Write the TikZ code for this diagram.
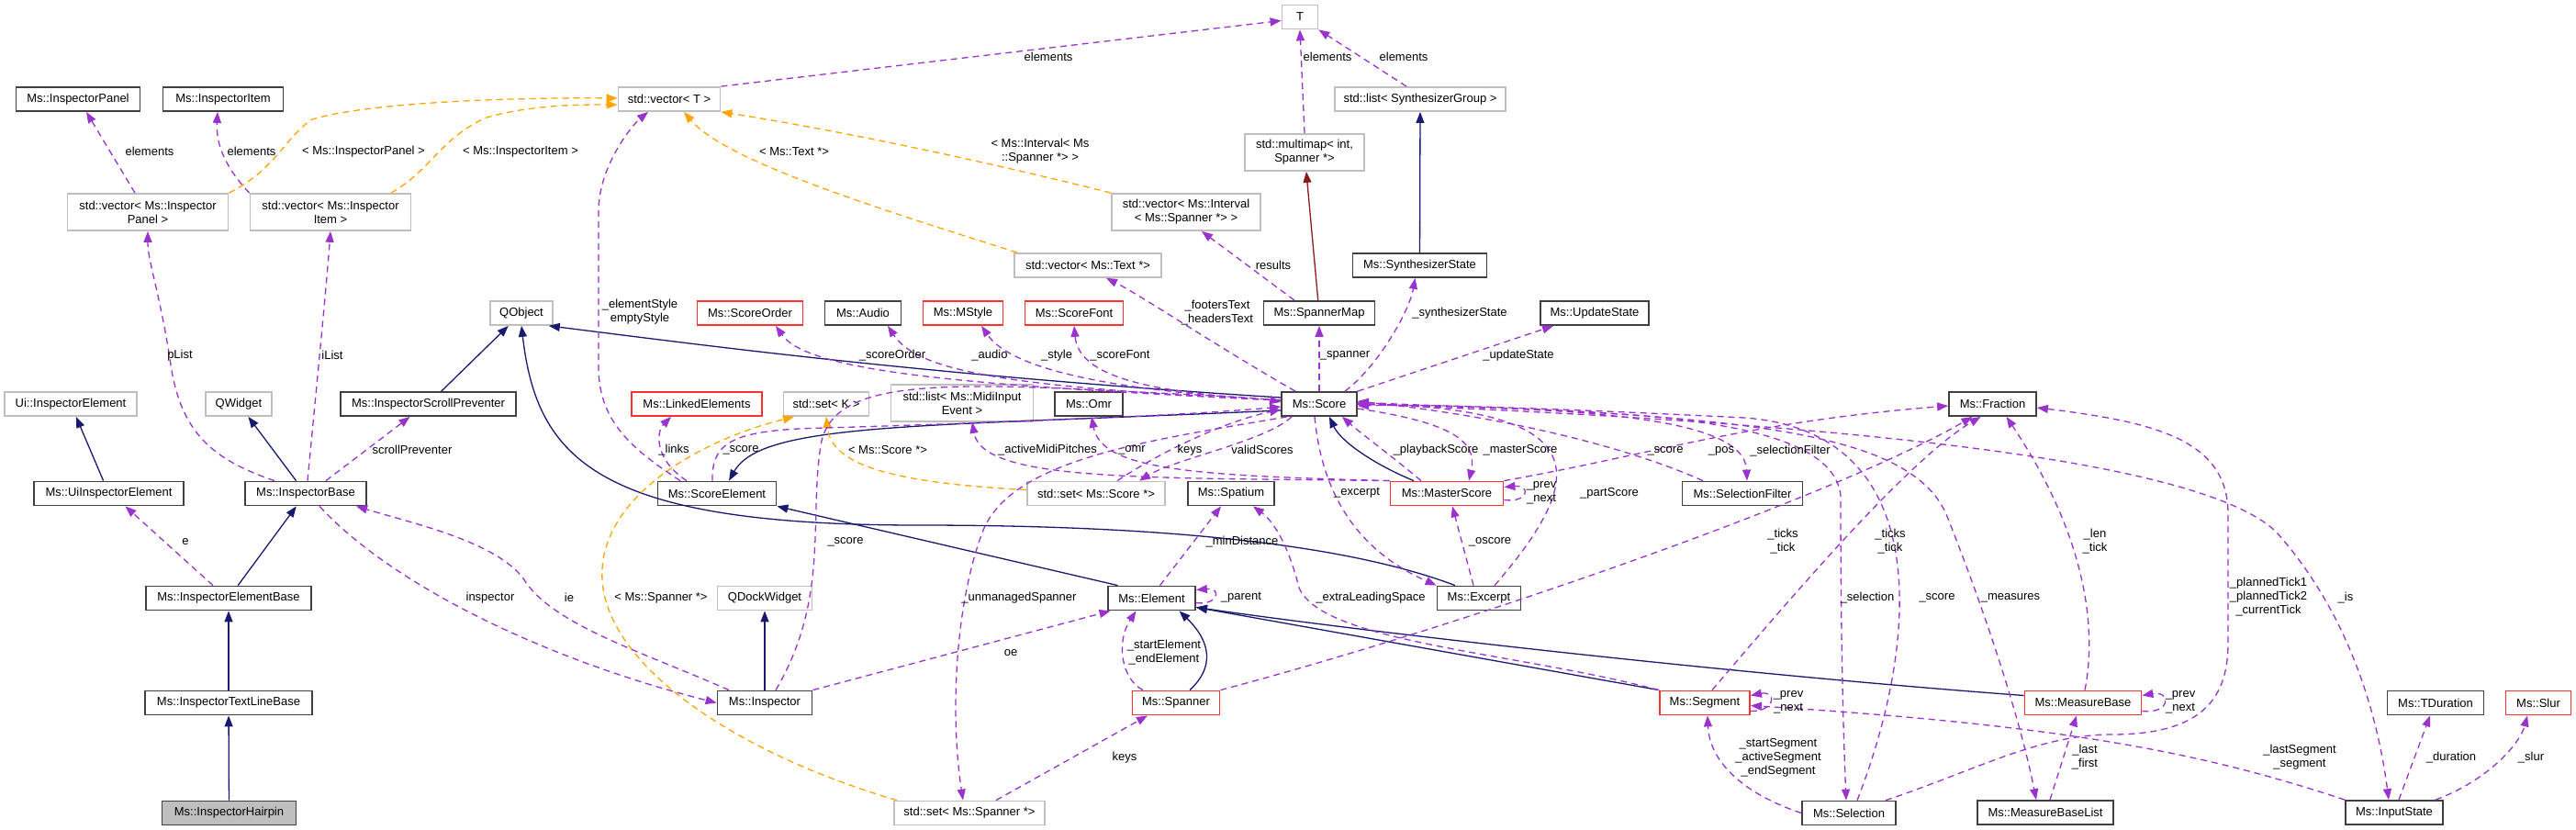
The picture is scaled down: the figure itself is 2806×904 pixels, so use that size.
\documentclass[tikz,border=0pt]{standalone}
\usepackage{fontspec}
\setmainfont{Liberation Sans}
\usetikzlibrary{arrows.meta}

\definecolor{usecol}{HTML}{9A32CD}
\definecolor{inhcol}{HTML}{191970}
\definecolor{tplcol}{HTML}{FFA500}
\definecolor{privcol}{HTML}{8B1A1A}
\definecolor{extcol}{HTML}{BFBFBF}
\definecolor{boxcol}{HTML}{404040}
\definecolor{trunccol}{HTML}{FF3030}

\tikzset{
  cls/.style={draw=boxcol, line width=1.8pt, rectangle, fill=white, minimum height=26pt, inner xsep=1pt, inner ysep=0pt, align=center},
  extcls/.style={cls, draw=extcol},
  trunccls/.style={cls, draw=trunccol},
  tall/.style={minimum height=40pt},
  inherit/.style={->, draw=inhcol, line width=1.3pt},
  privinh/.style={->, draw=privcol, line width=1.3pt},
  uses/.style={->, draw=usecol, line width=1.3pt, dash pattern=on 7pt off 5pt},
  templ/.style={->, draw=tplcol, line width=1.3pt, dash pattern=on 7pt off 5pt},
  lbl/.style={align=center, inner sep=0pt}
}

\begin{document}
\begin{tikzpicture}[x=1pt, y=-1pt, >={Triangle[length=12pt,width=9pt]}, font=\fontsize{13}{15}\selectfont]
\useasboundingbox (0,0) rectangle (2806,904);

% Define boxes
\node[cls, minimum width=135pt] (panel) at (85,108) {Ms::InspectorPanel};
\node[cls, minimum width=131pt] (item) at (243,108) {Ms::InspectorItem};
\node[extcls, minimum width=111pt] (vect) at (729,108) {std::vector< T >};
\node[extcls, minimum width=39pt] (tt) at (1416,18.5) {T};
\node[extcls, minimum width=186pt] (synthgroup) at (1547,108) {std::list< SynthesizerGroup >};
\node[extcls, tall, minimum width=130pt] (multimap) at (1421,166) {std::multimap< int,\\Spanner *>};
\node[extcls, tall, minimum width=175pt] (vecpanel) at (161,231) {std::vector< Ms::Inspector\\Panel >};
\node[extcls, tall, minimum width=175pt] (vecitem) at (360,231) {std::vector< Ms::Inspector\\Item >};
\node[extcls, tall, minimum width=162pt] (vecinterval) at (1292,231) {std::vector< Ms::Interval\\< Ms::Spanner *> >};
\node[extcls, minimum width=160pt] (vectext) at (1185,289) {std::vector< Ms::Text *>};
\node[cls, minimum width=146pt] (synthstate) at (1546.5,289) {Ms::SynthesizerState};
\node[extcls, minimum width=68pt] (qobject) at (568,341) {QObject};
\node[trunccls, minimum width=115pt] (scoreorder) at (817,341) {Ms::ScoreOrder};
\node[cls, minimum width=83pt] (audio) at (940,341) {Ms::Audio};
\node[trunccls, minimum width=87pt] (mstyle) at (1049,341) {Ms::MStyle};
\node[trunccls, minimum width=107pt] (scorefont) at (1170,341) {Ms::ScoreFont};
\node[cls, minimum width=121pt] (spannermap) at (1437,341) {Ms::SpannerMap};
\node[cls, minimum width=118pt] (updatestate) at (1737,341) {Ms::UpdateState};
\node[extcls, minimum width=144pt] (uielem) at (77,440) {Ui::InspectorElement};
\node[extcls, minimum width=72pt] (qwidget) at (260,440) {QWidget};
\node[cls, minimum width=191pt] (scrollprev) at (466.5,440) {Ms::InspectorScrollPreventer};
\node[trunccls, minimum width=142pt] (linked) at (759,440) {Ms::LinkedElements};
\node[extcls, minimum width=93pt] (setk) at (900,440) {std::set< K >};
\node[extcls, tall, minimum width=155pt] (midilist) at (1048,439) {std::list< Ms::MidiInput\\Event >};
\node[cls, minimum width=74pt] (omr) at (1186,440) {Ms::Omr};
\node[cls, minimum width=82pt] (score) at (1437,440) {Ms::Score};
\node[cls, minimum width=95pt] (fraction) at (2170.5,440) {Ms::Fraction};
\node[cls, minimum width=163pt] (uiinsp) at (118.5,537.5) {Ms::UiInspectorElement};
\node[cls, minimum width=132pt] (inspbase) at (333,537.5) {Ms::InspectorBase};
\node[cls, minimum width=129pt] (scoreelem) at (781,537.5) {Ms::ScoreElement};
\node[extcls, minimum width=150pt] (setscore) at (1194,537.5) {std::set< Ms::Score *>};
\node[cls, minimum width=94pt] (spatium) at (1341,537.5) {Ms::Spatium};
\node[trunccls, minimum width=123pt] (masterscore) at (1576,537.5) {Ms::MasterScore};
\node[cls, minimum width=131pt] (selfilter) at (1898,537.5) {Ms::SelectionFilter};
\node[cls, minimum width=180pt] (elembase) at (249,651.5) {Ms::InspectorElementBase};
\node[extcls, minimum width=103pt] (qdock) at (833,651.5) {QDockWidget};
\node[cls, minimum width=95pt] (element) at (1254.5,651.5) {Ms::Element};
\node[cls, minimum width=91pt] (excerpt) at (1611,651.5) {Ms::Excerpt};
\node[cls, minimum width=182pt] (textline) at (249,765.5) {Ms::InspectorTextLineBase};
\node[cls, minimum width=103pt] (inspector) at (833,765.5) {Ms::Inspector};
\node[trunccls, minimum width=95pt] (spanner) at (1281,765.5) {Ms::Spanner};
\node[trunccls, minimum width=98pt] (segment) at (1857,765.5) {Ms::Segment};
\node[trunccls, minimum width=127pt] (measurebase) at (2269,765.5) {Ms::MeasureBase};
\node[cls, minimum width=105pt] (tduration) at (2653,765.5) {Ms::TDuration};
\node[trunccls, minimum width=71pt] (slur) at (2765,765.5) {Ms::Slur};
\node[cls, fill=extcol, minimum width=146pt] (hairpin) at (249.5,885.5) {Ms::InspectorHairpin};
\node[extcls, minimum width=164pt] (setspanner) at (1056,885.5) {std::set< Ms::Spanner *>};
\node[cls, minimum width=102pt] (selection) at (2014,885.5) {Ms::Selection};
\node[cls, minimum width=148pt] (mblist) at (2228,885) {Ms::MeasureBaseList};
\node[cls, minimum width=106pt] (inputstate) at (2608,885) {Ms::InputState};

% Draw arrows (base classes)
\draw[inherit] (hairpin) -- (textline);
\draw[inherit] (textline) -- (elembase);
\draw[inherit] (elembase) -- (inspbase);
\draw[inherit] (uiinsp) -- (uielem);
\draw[inherit] (inspbase) -- (qwidget);
\draw[inherit] (scrollprev) -- (qobject);
\draw[inherit] (inspector) -- (qdock);
\draw[inherit] (synthstate) -- (synthgroup);
\draw[privinh] (spannermap) -- (multimap);
\draw[inherit] ([yshift=7pt]score.west) .. controls (1000,408) and (760,375) .. (qobject.-25);
\draw[inherit] ([yshift=-7pt]score.west) .. controls (1000,465) and (830,460) .. ([xshift=13pt]scoreelem.north);
\draw[inherit] ([xshift=-26pt]excerpt.north) .. controls (1480,598) and (1300,572) .. (1000,572) .. controls (650,572) and (585,500) .. (qobject.south);
\draw[inherit] ([xshift=-37pt]element.north) -- (scoreelem.south east);
\draw[inherit] ([xshift=15pt]spanner.north) .. controls (1330,720) and (1310,690) .. ([xshift=30pt]element.south);
\draw[inherit] (segment.north west) -- ([yshift=-10pt]element.east);
\draw[inherit] ([yshift=8pt]measurebase.west) .. controls (1900,735) and (1500,690) .. ([yshift=-10pt]element.east);
\draw[inherit] ([xshift=-36pt]masterscore.north) .. controls (1495,505) and (1460,480) .. ([xshift=11pt]score.south);

% Draw arrows (template instances)
\draw[templ] (vecpanel.north east) .. controls (300,185) and (310,150) .. (340,130) .. controls (400,112) and (550,106) .. ([yshift=1pt]vect.west);
\draw[templ] ([xshift=66pt]vecitem.north) .. controls (470,185) and (480,150) .. (530,128) .. controls (580,114) and (630,114) .. ([yshift=-6pt]vect.west);
\draw[templ] ([xshift=-77pt]vectext.north) .. controls (950,225) and (790,175) .. ([xshift=16pt]vect.south);
\draw[templ] (vecinterval.north west) .. controls (1050,170) and (900,140) .. (vect.south east);
\draw[templ] ([yshift=4pt]setscore.west) .. controls (950,525) and (905,500) .. (setk.south);
\draw[templ] ([xshift=-79pt]setspanner.north) .. controls (800,820) and (650,720) .. (656,620) .. controls (660,540) and (760,480) .. ([xshift=-35pt]setk.south);

% Draw arrows (members)
\draw[uses] ([xshift=-14pt]vecpanel.north) -- ([xshift=9pt]panel.south);
\draw[uses] (vecitem.north west) .. controls (248,185) and (235,160) .. ([xshift=-6pt]item.south);
\draw[uses] (vect.north east) -- ([yshift=-4pt]tt.west);
\draw[uses] (multimap.north) -- (tt.south);
\draw[uses] ([xshift=-15pt]synthgroup.north) -- (tt.south east);
\draw[uses] ([xshift=-27pt]spannermap.north) -- ([xshift=17pt]vecinterval.south);
\draw[uses] ([xshift=-26pt]score.north) .. controls (1330,380) and (1240,320) .. ([xshift=20pt]vectext.south);
\draw[uses] ([yshift=4pt]score.west) .. controls (1050,420) and (880,405) .. ([xshift=28pt]scoreorder.south);
\draw[uses] ([yshift=4pt]score.west) .. controls (1100,422) and (1000,405) .. ([xshift=27pt]audio.south);
\draw[uses] ([yshift=4pt]score.west) .. controls (1200,425) and (1100,400) .. ([xshift=20pt]mstyle.south);
\draw[uses] ([yshift=4pt]score.west) .. controls (1250,428) and (1175,410) .. (scorefont.south);
\draw[uses] (score.north) -- (spannermap.south);
\draw[uses] ([xshift=28pt]score.north) .. controls (1500,400) and (1535,340) .. ([xshift=-5pt]synthstate.south);
\draw[uses] (score.north east) -- ([xshift=-45pt]updatestate.south);
\draw[uses] ([xshift=-33pt]scoreelem.north) .. controls (712,500) and (715,470) .. ([xshift=-28pt]linked.south);
\draw[uses] ([xshift=-40pt]scoreelem.north) .. controls (690,490) and (652,460) .. (652,400) -- (652,230) .. controls (652,180) and (690,135) .. ([xshift=-23pt]vect.south);
\draw[uses] ([xshift=-5pt]scoreelem.north) .. controls (775,480) and (800,468) .. (900,466) .. controls (1100,460) and (1300,452) .. ([yshift=-3pt]score.west);
\draw[uses] ([xshift=12pt]inspector.north) .. controls (905,650) and (880,560) .. (895,480) .. controls (910,420) and (1000,415) .. (1200,425) .. controls (1300,430) and (1370,433) .. ([yshift=2pt]score.west);
\draw[uses] ([xshift=-34pt]inspbase.north) .. controls (230,500) and (195,470) .. (185,390) .. controls (172,310) and (161,285) .. (vecpanel.south);
\draw[uses] ([xshift=2pt]inspbase.north) .. controls (340,470) and (355,320) .. (vecitem.south);
\draw[uses] ([xshift=22pt]inspbase.north) -- ([xshift=-20pt]scrollprev.south);
\draw[uses] ([xshift=-17pt]elembase.north) -- ([xshift=18pt]uiinsp.south);
\draw[uses] ([xshift=15pt]inspbase.south) .. controls (430,640) and (600,720) .. (inspector.west);
\draw[uses] ([xshift=-39pt]inspector.north) .. controls (700,710) and (600,680) .. (570,630) .. controls (540,590) and (450,570) .. ([xshift=55pt]inspbase.south);
\draw[uses] (inspector.north east) -- ([xshift=-45pt]element.south);
\draw[uses] ([yshift=-5pt]element.east) .. controls (1326,660) and (1332,640) .. ([yshift=9pt]element.east);
\draw[uses] ([xshift=9pt]element.north) -- ([xshift=-11pt]spatium.south);
\draw[uses] ([xshift=-36pt]spanner.north) .. controls (1222,740) and (1215,700) .. ([xshift=-17pt]element.south);
\draw[uses] ([xshift=29pt]setspanner.north) -- ([xshift=-31pt]spanner.south);
\draw[uses] ([xshift=-35pt]score.south) .. controls (1250,480) and (1100,500) .. (1070,580) .. controls (1040,660) and (1035,780) .. ([xshift=-7pt]setspanner.north);
\draw[uses] (masterscore.north west) .. controls (1250,520) and (1070,525) .. ([xshift=11pt]midilist.south);
\draw[uses] (masterscore.north west) .. controls (1300,518) and (1200,512) .. ([xshift=3pt]omr.south);
\draw[uses] ([xshift=23pt]setscore.north) .. controls (1260,495) and (1330,460) .. ([yshift=-6pt]score.west);
\draw[uses] ([xshift=-30pt]score.south) .. controls (1380,480) and (1280,500) .. ([xshift=47pt]setscore.north);
\draw[uses] ([yshift=-5pt]score.east) .. controls (1580,460) and (1610,480) .. ([xshift=24pt]masterscore.north);
\draw[uses] ([xshift=-28pt]masterscore.north) .. controls (1520,500) and (1480,470) .. ([xshift=25pt]score.south);
\draw[uses] ([yshift=-7pt]masterscore.east) .. controls (1665,548) and (1668,528) .. ([yshift=7pt]masterscore.east);
\draw[uses] ([xshift=-5pt]score.south) .. controls (1440,540) and (1480,600) .. (excerpt.north west);
\draw[uses] ([xshift=-6pt]excerpt.north) -- ([xshift=6pt]masterscore.south);
\draw[uses] ([xshift=17pt]excerpt.north) .. controls (1730,520) and (1740,445) .. (score.east);
\draw[uses] (masterscore.north east) .. controls (1800,495) and (1900,460) .. ([yshift=-2pt]fraction.west);
\draw[uses] ([xshift=-43pt]selfilter.north) .. controls (1780,490) and (1650,455) .. ([yshift=3pt]score.east);
\draw[uses] (score.east) .. controls (1700,445) and (1900,450) .. ([xshift=5pt]selfilter.north);
\draw[uses] (spanner.north east) .. controls (1600,680) and (2000,540) .. ([xshift=-22pt]fraction.south);
\draw[uses] ([xshift=8pt]segment.north) .. controls (1960,640) and (2080,500) .. ([xshift=-13pt]fraction.south);
\draw[uses] ([xshift=2pt]measurebase.north) .. controls (2285,680) and (2270,580) .. ([xshift=15pt]fraction.south);
\draw[uses] ([xshift=40pt]selection.north) .. controls (2150,840) and (2220,800) .. (2300,800) .. controls (2400,800) and (2427,760) .. (2427,700) -- (2427,560) .. controls (2427,480) and (2350,460) .. ([yshift=-4pt]fraction.east);
\draw[uses] (inputstate.north west) .. controls (2400,820) and (2250,790) .. ([yshift=-3pt]segment.east);
\draw[uses] ([yshift=-9pt]segment.east) .. controls (1935,775) and (1935,752) .. ([yshift=8pt]segment.east);
\draw[uses] (selection.west) .. controls (1900,865) and (1862,830) .. ([xshift=3pt]segment.south);
\draw[uses] ([xshift=9pt]selection.north) .. controls (2090,700) and (2110,470) .. (1900,455) .. controls (1700,445) and (1550,440) .. ([yshift=-2pt]score.east);
\draw[uses] ([yshift=2pt]score.east) .. controls (1700,450) and (1995,440) .. (2005,540) .. controls (2005,700) and (2008,800) .. ([xshift=-3pt]selection.north);
\draw[uses] (score.east) .. controls (1900,450) and (2080,470) .. (2120,560) .. controls (2160,660) and (2200,780) .. ([xshift=-10pt]mblist.north);
\draw[uses] ([xshift=5pt]mblist.north) -- ([xshift=-7pt]measurebase.south);
\draw[uses] ([yshift=-9pt]measurebase.east) .. controls (2365,778) and (2365,752) .. ([yshift=8pt]measurebase.east);
\draw[uses] (score.east) .. controls (2000,460) and (2400,500) .. (2480,580) .. controls (2560,670) and (2590,780) .. ([xshift=-6pt]inputstate.north);
\draw[uses] ([xshift=5pt]inputstate.north) -- ([xshift=-6pt]tduration.south);
\draw[uses] ([xshift=45pt]inputstate.north) .. controls (2710,850) and (2745,810) .. ([xshift=-12pt]slur.south);
\draw[uses] (segment.north west) .. controls (1650,710) and (1440,700) .. (1415,640) .. controls (1405,600) and (1390,570) .. ([xshift=24pt]spatium.south);

% Edge labels
\node[lbl] (l-el1) at (163,165) {elements};
\node[lbl] (l-el2) at (274,165) {elements};
\node[lbl] (l-el3) at (1142,62) {elements};
\node[lbl] (l-el4) at (1446,62) {elements};
\node[lbl] (l-el5) at (1529,62) {elements};
\node[lbl] (l-tpanel) at (396,165) {< Ms::InspectorPanel >};
\node[lbl] (l-titem) at (567,165) {< Ms::InspectorItem >};
\node[lbl] (l-ttext) at (865,165) {< Ms::Text *>};
\node[lbl] (l-tinterval) at (1133,165) {< Ms::Interval< Ms\\::Spanner *> >};
\node[lbl] (l-results) at (1387,289) {results};
\node[lbl] (l-texts) at (1326,341) {\_footersText\\\_headersText};
\node[lbl] (l-style) at (697,340) {\_elementStyle\\emptyStyle};
\node[lbl] (l-scoreorder) at (972,387) {\_scoreOrder};
\node[lbl] (l-audio) at (1078,387) {\_audio};
\node[lbl] (l-mstyle) at (1151,387) {\_style};
\node[lbl] (l-scorefont) at (1220,387) {\_scoreFont};
\node[lbl] (l-spanner) at (1465,387) {\_spanner};
\node[lbl] (l-synth) at (1590,341) {\_synthesizerState};
\node[lbl] (l-update) at (1654,387) {\_updateState};
\node[lbl] (l-plist) at (196,387) {pList};
\node[lbl] (l-ilist) at (362,387) {iList};
\node[lbl] (l-links) at (734,490) {\_links};
\node[lbl] (l-sescore) at (807,490) {\_score};
\node[lbl] (l-tscore) at (967,490) {< Ms::Score *>};
\node[lbl] (l-midi) at (1141,490) {\_activeMidiPitches};
\node[lbl] (l-omr) at (1233,490) {\_omr};
\node[lbl] (l-keys1) at (1296,490) {keys};
\node[lbl] (l-valid) at (1375,490) {validScores};
\node[lbl] (l-playback) at (1564,490) {\_playbackScore};
\node[lbl] (l-master) at (1656,490) {\_masterScore};
\node[lbl] (l-sfscore) at (1814,491) {\_score};
\node[lbl] (l-pos) at (1875,491) {\_pos};
\node[lbl] (l-selfilter) at (1950,491) {\_selectionFilter};
\node[lbl] (l-scroll) at (449,490) {scrollPreventer};
\node[lbl] (l-e) at (202,590) {e};
\node[lbl] (l-iscore) at (921,590) {\_score};
\node[lbl] (l-mindist) at (1353,590) {\_minDistance};
\node[lbl] (l-oscore) at (1623,590) {\_oscore};
\node[lbl] (l-ticks1) at (1942,590) {\_ticks\\\_tick};
\node[lbl] (l-ticks2) at (2059,590) {\_ticks\\\_tick};
\node[lbl] (l-len) at (2282,590) {\_len\\\_tick};
\node[lbl] (l-excerpt) at (1478,537) {\_excerpt};
\node[lbl] (l-partscore) at (1753,537) {\_partScore};
\node[lbl] (l-msprev) at (1679,537) {\_prev\\\_next};
\node[lbl] (l-inspector) at (534,651) {inspector};
\node[lbl] (l-ie) at (620,651) {ie};
\node[lbl] (l-tspanner) at (720,651) {< Ms::Spanner *>};
\node[lbl] (l-unmanaged) at (1110,651) {\_unmanagedSpanner};
\node[lbl] (l-parent) at (1352,651) {\_parent};
\node[lbl] (l-leading) at (1493,651) {\_extraLeadingSpace};
\node[lbl] (l-selection) at (2034,651) {\_selection};
\node[lbl] (l-selscore) at (2110,651) {\_score};
\node[lbl] (l-measures) at (2190,651) {\_measures};
\node[lbl] (l-planned) at (2471,650) {\_plannedTick1\\\_plannedTick2\\\_currentTick};
\node[lbl] (l-is) at (2555,651) {\_is};
\node[lbl] (l-oe) at (1101,711) {oe};
\node[lbl] (l-startelem) at (1268,711) {\_startElement\\\_endElement};
\node[lbl] (l-segprev) at (1948,765) {\_prev\\\_next};
\node[lbl] (l-mbprev) at (2375,765) {\_prev\\\_next};
\node[lbl] (l-keys2) at (1225,825) {keys};
\node[lbl] (l-segments) at (1937,825) {\_startSegment\\\_activeSegment\\\_endSegment};
\node[lbl] (l-last) at (2271,825) {\_last\\\_first};
\node[lbl] (l-lastseg) at (2505,825) {\_lastSegment\\\_segment};
\node[lbl] (l-duration) at (2670,825) {\_duration};
\node[lbl] (l-slur) at (2757,825) {\_slur};

\end{tikzpicture}
\end{document}
